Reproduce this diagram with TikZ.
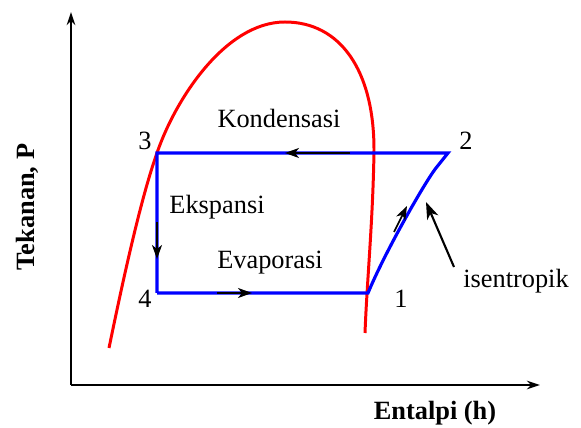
\documentclass[tikz,border=0pt]{standalone}
\usepackage{fontspec}
\setmainfont{Liberation Serif}
\usetikzlibrary{arrows.meta,positioning,calc}

\begin{document}
\begin{tikzpicture}[
    x=0.02cm, y=-0.02cm,
    txt/.style={font=\fontsize{15}{18}\selectfont, inner sep=0pt, anchor=base},
    axislbl/.style={font=\fontsize{15}{18}\selectfont\bfseries, inner sep=0pt},
    axis/.style={-{Stealth[length=0.26cm,width=0.17cm]}, line width=1.6pt},
    dome/.style={red, line width=1.7pt},
    cycle/.style={blue, line width=1.8pt, line join=miter},
    flow/.style={-{Stealth[length=0.28cm,width=0.2cm,inset=0.08cm]}, black, line width=1pt},
    arrow/.style={-{Stealth[length=0.34cm,width=0.24cm,inset=0.1cm]}, line width=1.2pt}
]
    \useasboundingbox (0,0) rectangle (581,428);

    % axes
    \coordinate (O) at (71,385);
    \coordinate (ytop) at (71,12);
    \coordinate (xend) at (540,385);
    \draw[axis] (O) -- (ytop);
    \draw[axis] (O) -- (xend);
    \node[axislbl, rotate=90] (ylbl) at (27,207) {Tekanan, P};
    \node[axislbl] (xlbl) at (435,413) {Entalpi (h)};

    % saturation dome
    \draw[dome] (109,348) .. controls (125,270) and (142,195) .. (157,153)
        .. controls (175,100) and (225,22) .. (285,22)
        .. controls (340,22) and (374,70) .. (374,150)
        .. controls (373,220) and (367,280) .. (365,333);

    % cycle states
    \coordinate (p1) at (368,293);
    \coordinate (p2) at (448,153);
    \coordinate (p3) at (157,153);
    \coordinate (p4) at (157,293);

    \draw[cycle] (p4) -- (p1) .. controls (385,252) and (425,182) .. (436,168) -- (p2) -- (p3) -- (p4);

    % flow direction
    \draw[flow] (350,153) -- (285,153);
    \draw[flow] (157,222) -- (157,259);
    \draw[flow] (217,293) -- (252,293);
    \draw[flow] (394,232) -- (407,206);

    \node[txt] (n3) at (145,150) {3};
    \node[txt] (n2) at (466,150) {2};
    \node[txt] (n4) at (145,308) {4};
    \node[txt] (n1) at (401,308) {1};
    \node[txt] (kond) at (279,128) {Kondensasi};
    \node[txt] (eksp) at (217,214) {Ekspansi};
    \node[txt] (evap) at (270,269) {Evaporasi};
    \node[txt] (isen) at (516,288) {isentropik};

    \draw[arrow] (454,267) -- (426,202);
\end{tikzpicture}
\end{document}
